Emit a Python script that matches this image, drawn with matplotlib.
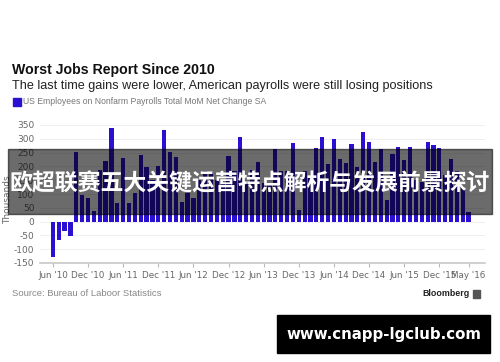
import matplotlib.pyplot as plt
from matplotlib.patches import Rectangle

# monthly net change, thousands (Jun 2010 .. May 2016)
months = ['Jun10', 'Jul10', 'Aug10', 'Sep10', 'Oct10', 'Nov10', 'Dec10',
          'Jan11', 'Feb11', 'Mar11', 'Apr11', 'May11', 'Jun11', 'Jul11', 'Aug11', 'Sep11', 'Oct11', 'Nov11', 'Dec11',
          'Jan12', 'Feb12', 'Mar12', 'Apr12', 'May12', 'Jun12', 'Jul12', 'Aug12', 'Sep12', 'Oct12', 'Nov12', 'Dec12',
          'Jan13', 'Feb13', 'Mar13', 'Apr13', 'May13', 'Jun13', 'Jul13', 'Aug13', 'Sep13', 'Oct13', 'Nov13', 'Dec13',
          'Jan14', 'Feb14', 'Mar14', 'Apr14', 'May14', 'Jun14', 'Jul14', 'Aug14', 'Sep14', 'Oct14', 'Nov14', 'Dec14',
          'Jan15', 'Feb15', 'Mar15', 'Apr15', 'May15', 'Jun15', 'Jul15', 'Aug15', 'Sep15', 'Oct15', 'Nov15', 'Dec15',
          'Jan16', 'Feb16', 'Mar16', 'Apr16', 'May16']
payrolls = [-130, -68, -35, -52, 253, 96, 84,
            40, 186, 221, 340, 69, 231, 66, 105, 241, 197, 150, 203,
            332, 252, 233, 72, 103, 85, 150, 185, 179, 150, 140, 238,
            185, 305, 140, 188, 215, 140, 140, 263, 183, 183, 285, 42,
            183, 165, 266, 305, 208, 301, 227, 212, 282, 197, 325, 287,
            215, 262, 80, 245, 269, 224, 272, 150, 145, 290, 277, 267,
            168, 227, 183, 123, 36]
tick_idx = [0, 6, 12, 18, 24, 30, 36, 42, 48, 54, 60, 66, 71]
tick_labels = ["Jun '10", "Dec '10", "Jun '11", "Dec '11", "Jun '12", "Dec '12", "Jun '13",
               "Dec '13", "Jun '14", "Dec '14", "Jun '15", "Dec '15", "May '16"]
y_ticks = [-150, -100, -50, 0, 50, 100, 150, 200, 250, 300, 350]

W, H = 500, 362
fig = plt.figure(figsize=(W / 100, H / 100), dpi=100)
fig.patch.set_facecolor('white')

def fx(px):
    return px / W

def fy(py):
    return 1 - py / H

bar_color = '#2a10d0'

ax = fig.add_axes([fx(40), fy(263), fx(485) - fx(40), fy(125) - fy(263)])
x = list(range(len(payrolls)))
ax.bar(x, payrolls, width=0.72, color=bar_color, zorder=3)
ax.set_xlim(-2.2, 73.8)
ax.set_ylim(-150, 350)
ax.set_yticks(y_ticks)
ax.set_yticklabels([str(v) for v in y_ticks], fontsize=6.5, color='#666666')
ax.set_xticks(tick_idx)
ax.set_xticklabels(tick_labels, fontsize=6.3, color='#666666')
ax.tick_params(axis='y', length=0, pad=4)
ax.tick_params(axis='x', length=3, width=0.8, color='#bbbbbb', pad=3)
ax.grid(axis='y', color='#eeeeee', linewidth=0.7, zorder=0)
for s in ['top', 'right', 'left']:
    ax.spines[s].set_visible(False)
ax.spines['bottom'].set_color('#c8c8c8')
ax.spines['bottom'].set_linewidth(1.2)
ax.set_ylabel('Thousands', fontsize=6.5, color='#666666')
ax.yaxis.set_label_coords(-0.063, 0.46)

fig.text(fx(12), fy(70), 'Worst Jobs Report Since 2010', fontsize=10.2, fontweight='bold',
         family='Liberation Sans', va='center', ha='left', color='#111111')
fig.text(fx(12), fy(86), 'The last time gains were lower, American payrolls were still losing positions',
         fontsize=9.1, family='Liberation Sans', va='center', ha='left', color='#222222')
fig.patches.append(Rectangle((fx(13), fy(106)), fx(8), fy(98) - fy(106), color=bar_color,
                             transform=fig.transFigure, figure=fig))
fig.text(fx(23), fy(102), 'US Employees on Nonfarm Payrolls Total MoM Net Change SA',
         fontsize=6.2, family='Liberation Sans', va='center', ha='left', color='#777777')

fig.text(fx(12), fy(294), 'Source: Bureau of Laboor Statistics', fontsize=6.8,
         family='Liberation Sans', va='center', ha='left', color='#888888')
fig.text(fx(470), fy(294), 'Bloomberg', fontsize=6.4, fontweight='bold',
         family='Liberation Sans', va='center', ha='right', color='#222222')
fig.patches.append(Rectangle((fx(473), fy(298)), fx(7), fy(290) - fy(298), color='#555555',
                             transform=fig.transFigure, figure=fig))

# overlay banner
fig.patches.append(Rectangle((fx(8), fy(214)), fx(484), fy(149) - fy(214), color='black',
                             alpha=0.58, transform=fig.transFigure, figure=fig, zorder=10))
fig.text(0.5, fy(184), '欧超联赛五大关键运营特点解析与发展前景探讨', fontsize=16.5, fontweight='bold',
         family=['Noto Sans CJK SC', 'DejaVu Sans'], va='center', ha='center', color='white', zorder=11)

fig.patches.append(Rectangle((fx(277), fy(353)), fx(213), fy(315) - fy(353), color='black',
                             transform=fig.transFigure, figure=fig, zorder=10))
fig.text(fx(384), fy(334), 'www.cnapp-lgclub.com', fontsize=10.8, fontweight='bold',
         family='DejaVu Sans', va='center', ha='center', color='white', zorder=11)

fig.savefig('out.png', dpi=100, facecolor='white')
